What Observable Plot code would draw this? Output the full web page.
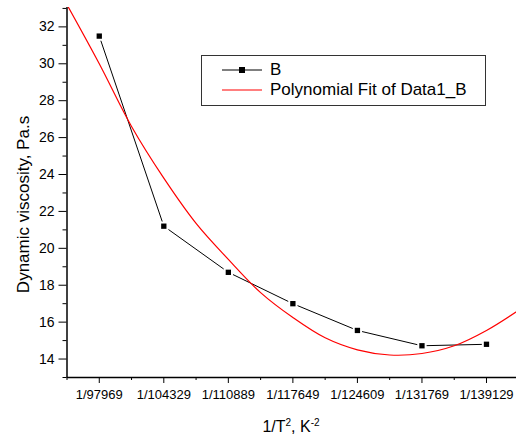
<!DOCTYPE html>
<html>
<head>
<meta charset="utf-8">
<script src="https://cdn.jsdelivr.net/npm/d3@7"></script>
<script src="https://cdn.jsdelivr.net/npm/@observablehq/plot@0.6"></script>
<style>
  body { margin: 0; background: #fff; font-family: Arial, "Liberation Sans", sans-serif; }
  #wrap { position: relative; width: 516px; height: 438px; overflow: hidden; }
  #legend { position: absolute; left: 201px; top: 55px; width: 283px; height: 45px;
            border: 1px solid #333; background: #fff; padding-top: 4px; box-sizing: content-box; }
  .row { display: flex; align-items: center; height: 20px; padding-left: 20px; font-size: 17px; line-height: 20px; color: #000; }
  .row svg { display: block; margin-right: 8px; }
  #xtitle { position: absolute; left: 191px; width: 200px; top: 419px; text-align: center;
            font-size: 16px; line-height: 16px; color: #000; }
  #xtitle sup { font-size: 10px; vertical-align: 6px; line-height: 0; }
</style>
</head>
<body>
<div id="wrap"></div>
<script>
// ---- data ----
const xLabels = ["1/97969", "1/104329", "1/110889", "1/117649", "1/124609", "1/131769", "1/139129"];
const xIndex = [0, 1, 2, 3, 4, 5, 6];
const viscosity = [31.5, 21.2, 18.7, 17.0, 15.55, 14.72, 14.8];
const fitIndex = [-0.5, 0, 0.5, 1, 1.5, 2, 2.5, 3, 3.5, 4, 4.5, 5, 5.5, 6, 6.5];
const fitViscosity = [33.2, 30.0, 26.6, 23.8, 21.35, 19.4, 17.6, 16.25, 15.15, 14.5, 14.22, 14.3, 14.72, 15.55, 16.65];
const yTickValues = [14, 16, 18, 20, 22, 24, 26, 28, 30, 32];
const yMinorTicks = [13, 15, 17, 19, 21, 23, 25, 27, 29, 31, 33];
const xMinorTicks = [-0.5, 0.5, 1.5, 2.5, 3.5, 4.5, 5.5, 6.5];
const seriesName = "B";
const fitName = "Polynomial Fit of Data1_B";
const yTitle = "Dynamic viscosity, Pa.s";

const points = xIndex.map((t, i) => ({t, v: viscosity[i]}));
const fit = fitIndex.map((t, i) => ({t, v: fitViscosity[i]}));

const font = "Arial, 'Liberation Sans', sans-serif";

const chart = Plot.plot({
  width: 516,
  height: 438,
  marginLeft: 66.5,
  marginRight: 0,
  marginTop: 7,
  marginBottom: 61,
  style: {fontFamily: font, background: "#fff", color: "#000", overflow: "visible"},
  x: {type: "linear", domain: [-0.5, 6.465], axis: null},
  y: {domain: [13, 33.05], axis: null},
  marks: [
    Plot.axisX({ticks: xIndex, tickFormat: i => xLabels[i], tickSize: 6, tickPadding: 6, fontSize: 13, label: null, stroke: "#000", fill: "#000"}),
    Plot.axisX({ticks: xMinorTicks, tickFormat: () => "", tickSize: 3, label: null, stroke: "#000"}),
    Plot.axisY({ticks: yTickValues, tickFormat: d => String(d), tickSize: 8, tickPadding: 4.5, fontSize: 14, label: null, stroke: "#000", fill: "#000"}),
    Plot.axisY({ticks: yMinorTicks, tickFormat: () => "", tickSize: 4, label: null, stroke: "#000"}),
    Plot.ruleX([-0.5], {stroke: "#000", strokeWidth: 1.5}),
    Plot.ruleY([13], {stroke: "#000", strokeWidth: 1.5}),
    Plot.text([yTitle], {frameAnchor: "left", rotate: -90, dx: -43.5, dy: 12, fontSize: 17, fill: "#000", textAnchor: "middle"}),
    Plot.line(points, {x: "t", y: "v", stroke: "#000", strokeWidth: 1}),
    Plot.dot(points, {x: "t", y: "v", symbol: "square", r: 3, fill: "#000", stroke: "#fff", strokeWidth: 4, paintOrder: "stroke"}),
    Plot.line(fit, {x: "t", y: "v", stroke: "#ff0000", strokeWidth: 1.2, curve: "catmull-rom", clip: true})
  ]
});

const wrap = document.getElementById("wrap");
wrap.appendChild(chart);

// legend
const legend = document.createElement("div");
legend.id = "legend";
legend.innerHTML = `
  <div class="row"><svg width="40" height="20"><line x1="0" x2="40" y1="10" y2="10" stroke="#000" stroke-width="1"/><rect x="17" y="7" width="6" height="6" fill="#000"/></svg><span>${seriesName}</span></div>
  <div class="row"><svg width="40" height="20"><line x1="0" x2="40" y1="10" y2="10" stroke="#ff0000" stroke-width="1.2"/></svg><span>${fitName}</span></div>`;
wrap.appendChild(legend);

// x axis title
const xt = document.createElement("div");
xt.id = "xtitle";
xt.innerHTML = "1/T<sup>2</sup>, K<sup>-2</sup>";
wrap.appendChild(xt);
</script>
</body>
</html>
